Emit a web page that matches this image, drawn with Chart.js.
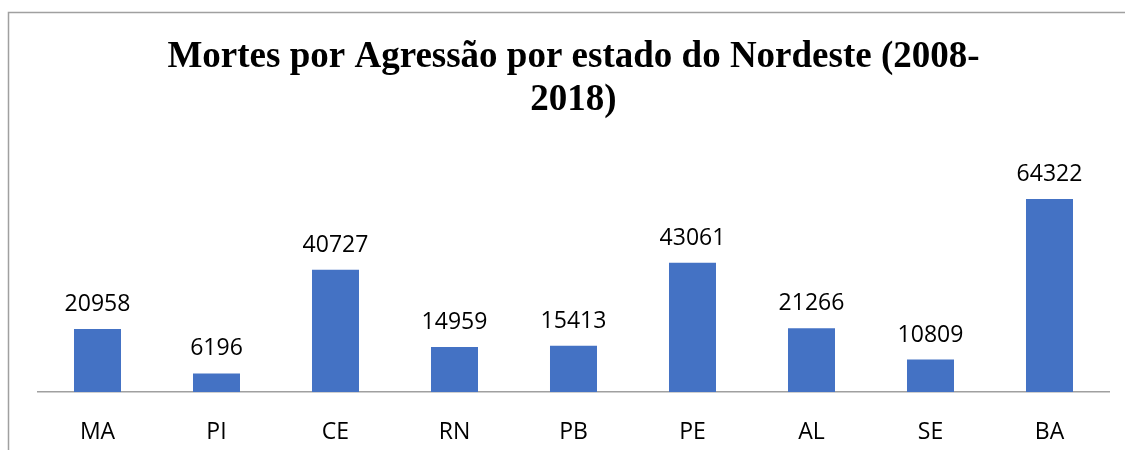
<!DOCTYPE html>
<html>
<head>
<meta charset="utf-8">
<title>Mortes por Agressão</title>
<script src="https://cdn.jsdelivr.net/npm/chart.js@4.4.1/dist/chart.umd.min.js"></script>
<style>
  html, body { margin: 0; padding: 0; background: #fff; }
  #wrap { width: 1125px; height: 450px; }
</style>
</head>
<body>
<div id="wrap"><canvas id="chart" width="1125" height="450"></canvas></div>
<script>
// data
const states = ['MA', 'PI', 'CE', 'RN', 'PB', 'PE', 'AL', 'SE', 'BA'];
const deaths = [20958, 6196, 40727, 14959, 15413, 43061, 21266, 10809, 64322];
const titleLines = ['Mortes por Agressão por estado do Nordeste (2008-', '2018)'];

const labelFont = "23px 'Open Sans', sans-serif";

// frame line around the chart (top + left, as in the reference crop)
const framePlugin = {
    id: 'frame',
    beforeDraw(chart) {
        const ctx = chart.ctx;
        ctx.save();
        ctx.strokeStyle = '#a0a0a0';
        ctx.lineWidth = 1.5;
        ctx.beginPath();
        ctx.moveTo(8.5, 450);
        ctx.lineTo(8.5, 12.5);
        ctx.lineTo(1125, 12.5);
        ctx.stroke();
        ctx.restore();
    }
};

// value labels above each bar
const valueLabels = {
    id: 'valueLabels',
    afterDatasetsDraw(chart) {
        const ctx = chart.ctx;
        const meta = chart.getDatasetMeta(0);
        ctx.save();
        ctx.font = labelFont;
        ctx.fillStyle = '#000';
        ctx.textAlign = 'center';
        ctx.textBaseline = 'alphabetic';
        meta.data.forEach((bar, i) => {
            ctx.fillText(String(deaths[i]), bar.x, bar.y - 18);
        });
        ctx.restore();
    }
};

new Chart(document.getElementById('chart'), {
    type: 'bar',
    data: {
        labels: states,
        datasets: [{
            data: deaths,
            backgroundColor: '#4472C4',
            categoryPercentage: 1,
            barPercentage: 0.395
        }]
    },
    options: {
        responsive: false,
        animation: false,
        layout: { padding: { left: 38, right: 16, top: 0, bottom: 0 } },
        plugins: {
            legend: { display: false },
            tooltip: { enabled: false },
            title: {
                display: true,
                text: titleLines,
                color: '#000',
                font: { family: "'Liberation Serif', 'Times New Roman', serif", size: 37, weight: 'bold', lineHeight: 1.17 },
                padding: { top: 36, bottom: 59.4 }
            }
        },
        scales: {
            x: {
                grid: { display: false },
                border: { display: true, color: '#a0a0a0', width: 1.5 },
                ticks: {
                    color: '#000',
                    font: { family: "'Open Sans', sans-serif", size: 23 },
                    padding: 19
                },
                afterFit(scale) { scale.height = 58; }
            },
            y: {
                display: false,
                min: 0,
                max: 70000
            }
        }
    },
    plugins: [framePlugin, valueLabels]
});
</script>
</body>
</html>
